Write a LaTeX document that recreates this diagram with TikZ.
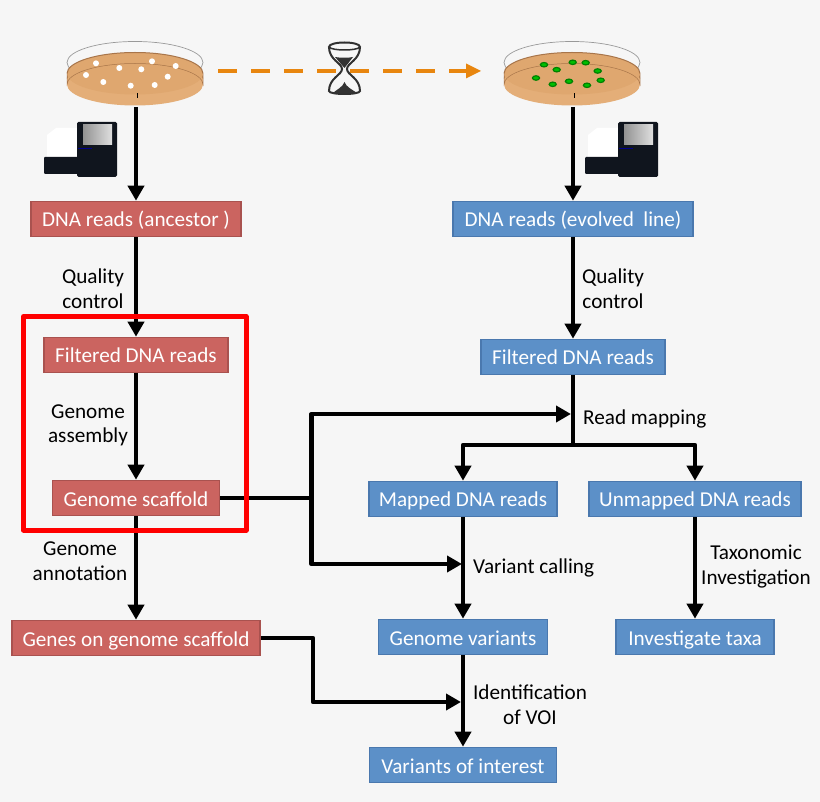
\documentclass[tikz,border=0pt]{standalone}
\usepackage{fontspec}
\setmainfont{Carlito}
\usetikzlibrary{arrows.meta,calc}
\definecolor{bgc}{HTML}{F6F6F6}
\definecolor{redf}{HTML}{CB6460}
\definecolor{redd}{HTML}{A9524F}
\definecolor{bluef}{HTML}{5C90C8}
\definecolor{blued}{HTML}{4A78AE}
\definecolor{orangec}{HTML}{E8860F}
\definecolor{agar}{HTML}{DFA76F}
\definecolor{agard}{HTML}{A8754A}
\definecolor{shell}{HTML}{E4AE78}
\definecolor{seqdark}{HTML}{10151E}
\tikzset{
  boxbase/.style={draw,line width=1.6pt,inner sep=0pt,minimum height=35pt,text height=16pt,text depth=0pt,text=white,font=\fontsize{21.2}{25}\selectfont},
  redbox/.style={boxbase,fill=redf,draw=redd},
  bluebox/.style={boxbase,fill=bluef,draw=blued},
  conn/.style={draw=black,line width=4.8pt,line join=round},
  arr/.style={conn,-{Triangle[length=15pt,width=16pt]}},
  lab/.style={inner sep=0pt,align=center,font=\fontsize{21.2}{24.5}\selectfont,text=black},
  petri/.pic={
    \draw[gray!80,line width=.7pt] (0,-11) ellipse [x radius=68,y radius=21];
    \draw[gray!60,line width=.7pt] (-67,-4) arc [start angle=180,end angle=0,x radius=67,y radius=24];
    \fill[shell] (0,11) ellipse [x radius=68,y radius=21];
    \fill[shell] (-68,0) rectangle (68,11);
    \draw[agard,line width=.6pt] (-68,5) arc [start angle=180,end angle=360,x radius=68,y radius=21];
    \fill[agar] (0,0) ellipse [x radius=68,y radius=21];
    \draw[agard,line width=1pt] (-68,0) arc [start angle=180,end angle=360,x radius=68,y radius=21];
    \draw[agard,line width=.5pt] (-68,0) -- (-68,11) arc [start angle=180,end angle=360,x radius=68,y radius=21] -- (68,0);
    \fill[black] (1.5,20) rectangle (3,25);
  },
  sequencer/.pic={
    \fill[white] (47,135) -- (56,128) -- (77,128) -- (77,158) -- (47,158) -- cycle;
    \fill[seqdark,rounded corners=1pt] (44,157) rectangle (78,174);
    \fill[seqdark,rounded corners=1.5pt] (77,122) rectangle (117,177);
    \shade[left color=gray!85,right color=gray!25] (83,125) rectangle (112,145);
    \fill[blue!55!black] (78,148.5) rectangle (92,149.5);
  },
  colw/.style={fill=white},
  colg/.style={fill=green!75!black,draw=green!50!black,line width=1.2pt}
}
\begin{document}
\begin{tikzpicture}[x=1pt,y=-1pt]
\fill[bgc] (0,0) rectangle (820,802);
\useasboundingbox (0,0) rectangle (820,802);

% dishes
\pic at (135,73.5) {petri};
\pic at (572,73.5) {petri};
\foreach \p in {(96,63.3),(119.3,68),(141.3,69.3),(152,61.3),(175.7,66),(86,75),(103.3,82),(130.7,85.7),(154.7,85),(167.7,76.7)}
  \fill[colw] \p circle (3);
\foreach \p in {(544,64.7),(556.7,69.7),(572.7,62.3),(585.7,62.7),(597.7,71),(536,78),(552.7,84.3),(569,81.3),(587,85.3),(600.7,80.3)}
  \path[colg] \p ellipse [x radius=3.6,y radius=2.2];
\coordinate (dishA) at (136,107);
\coordinate (dishB) at (573,107);
\coordinate (dashA) at (218,71);
\coordinate (dashB) at (481,71);

% sequencers
\pic at (0,0) {sequencer};
\pic at (541,0) {sequencer};

% orange dashed arrow and hourglass
\draw[orangec,line width=4.6pt,dash pattern=on 19pt off 14pt] (dashA) -- (467,71);
\fill[orangec] (466,63.5) -- (dashB) -- (466,78.5) -- cycle;
\draw[bgc!20!black,line width=2pt,fill=bgc,fill opacity=.55] (329,47) .. controls (329,60) and (342,63) .. (342,69) .. controls (342,75) and (329,78) .. (329,91) .. controls (329,95) and (360,95) .. (360,91) .. controls (360,78) and (347,75) .. (347,69) .. controls (347,63) and (360,60) .. (360,47) .. controls (360,41) and (329,41) .. (329,47) -- cycle;
\draw[bgc!20!black,line width=1.5pt] (329,47) .. controls (332,51) and (357,51) .. (360,47);
\fill[black!80] (335,57) .. controls (340,58) and (349,58) .. (353,57) -- (344.5,68) -- cycle;
\fill[black!80] (344.5,82) .. controls (343,87) and (336,90) .. (333,93) -- (357,93) .. controls (353,90) and (346,87) .. (344.5,82) -- cycle;

% boxes
\node[redbox,minimum width=210pt] (ra) at (136,219) {DNA reads (ancestor )};
\node[redbox,minimum width=184pt] (rf) at (136,355) {Filtered DNA reads};
\node[redbox,minimum width=167pt] (rs) at (136,498) {Genome scaffold};
\node[redbox,minimum width=248pt] (rg) at (136,638) {Genes on genome scaffold};
\node[bluebox,minimum width=240pt] (ba) at (573,219) {DNA reads (evolved\ \ line)};
\node[bluebox,minimum width=184pt] (bf) at (573,357) {Filtered DNA reads};
\node[bluebox,minimum width=188pt] (bm) at (463,499) {Mapped DNA reads};
\node[bluebox,minimum width=212pt] (bu) at (695,499) {Unmapped DNA reads};
\node[bluebox,minimum width=169pt] (bv) at (463,637) {Genome variants};
\node[bluebox,minimum width=158pt] (bt) at (695,637) {Investigate taxa};
\node[bluebox,minimum width=187pt] (bi) at (463,765) {Variants of interest};

% connectors
\draw[arr] (dishA) -- (ra);
\draw[arr] (dishB) -- (ba);
\draw[arr] (ra) -- (rf);
\draw[arr] (rf) -- (rs);
\draw[arr] (rs) -- (rg);
\draw[arr] (ba) -- (bf);
\draw[arr] (bm) -- (bv);
\draw[arr] (bu) -- (bt);
\draw[arr] (bv) -- (bi);

\coordinate (split) at (573,445);
\coordinate (rmtip) at (571,414);
\coordinate (vctip) at (462,564);
\coordinate (vitip) at (461,702);
\coordinate (junc) at (311.5,498);
\draw[conn] (bf) -- (split);
\draw[arr] (split) -| (bm);
\draw[arr] (split) -| (bu);
\draw[conn] (rs) -- (junc);
\draw[arr] (junc) |- (rmtip);
\draw[arr] (junc) |- (vctip);
\draw[arr] (rg) -- (313,638) |- (vitip);

% red frame
\draw[red,line width=5pt,line join=round] (23.5,316.5) rectangle (246,530);

% labels
\node[lab] (l1) at (93,288.5) {Quality\\control};
\node[lab] (l2) at (88,425.5) {Genome\\assembly};
\node[lab] (l3) at (80,561) {Genome\\annotation};
\node[lab] (l4) at (613,288.5) {Quality\\control};
\node[lab,anchor=west] (l5) at (583,419) {Read mapping};
\node[lab,anchor=west] (l6) at (473,568) {Variant calling};
\node[lab] (l7) at (756,566.5) {Taxonomic\\Investigation};
\node[lab] (l8) at (530,704.5) {Identification\\of VOI};
\end{tikzpicture}
\end{document}
